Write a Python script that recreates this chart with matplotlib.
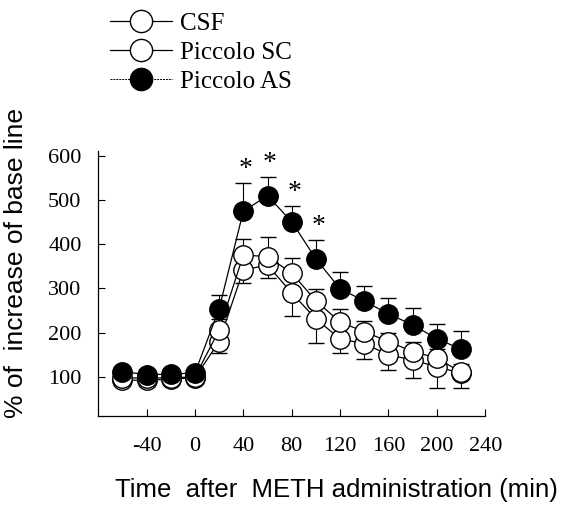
import matplotlib.pyplot as plt
from matplotlib.lines import Line2D

# Time points (min after METH administration)
time = [-60, -40, -20, 0, 20, 40, 60, 80, 100, 120, 140, 160, 180, 200, 220]

# % of base line
csf = [98, 97, 98, 100, 206, 376, 372, 335, 272, 224, 202, 180, 157, 143, 110]
csf_err = [8, 8, 8, 8, 25, 36, 45, 34, 27, 30, 25, 20, 22, 20, 20]

piccolo_sc = [93, 92, 95, 98, 180, 342, 353, 290, 231, 186, 175, 150, 138, 123, 108]
piccolo_sc_err = [8, 12, 8, 8, 25, 30, 30, 52, 54, 32, 34, 34, 40, 48, 34]

piccolo_as = [112, 105, 106, 109, 254, 475, 510, 451, 367, 299, 272, 242, 218, 186, 163]
piccolo_as_err = [8, 8, 8, 8, 31, 64, 42, 36, 43, 39, 34, 37, 38, 34, 41]

star_times = [40, 60, 80, 100]

plt.rcParams['font.family'] = 'Liberation Serif'
plt.rcParams['axes.unicode_minus'] = False

fig = plt.figure(figsize=(5.61, 5.07), dpi=100)
ax = fig.add_axes([0.175, 0.18, 0.69, 0.522])

ms = 14
common = dict(color='black', lw=0.9, markersize=ms, markeredgewidth=1.0,
              capsize=6, elinewidth=0.8, capthick=0.8)
zeros = [0] * len(time)

# upper error bars for CSF, lower for Piccolo SC, upper for Piccolo AS
ax.errorbar(time, piccolo_sc, yerr=[piccolo_sc_err, zeros],
            marker='o', markerfacecolor='white', zorder=2, **common)
ax.errorbar(time, csf, yerr=[zeros, csf_err],
            marker='o', markerfacecolor='white', zorder=3, **common)
ax.errorbar(time, piccolo_as, yerr=[zeros, piccolo_as_err],
            marker='o', markerfacecolor='black', zorder=4, **common)

# significance marks
for t in star_times:
    i = time.index(t)
    ax.text(t + 2, piccolo_as[i] + piccolo_as_err[i] + 3, '*', ha='center', va='bottom',
            fontsize=20)

ax.set_xlim(-80, 240)
ax.set_ylim(12, 611)
ax.set_xticks([-40, 0, 40, 80, 120, 160, 200, 240])
ax.set_yticks([100, 200, 300, 400, 500, 600])
ax.tick_params(direction='in', length=5, width=0.8, labelsize=16)
ax.tick_params(axis='x', pad=15)
ax.tick_params(axis='y', pad=12)
for s in ['top', 'right']:
    ax.spines[s].set_visible(False)
for s in ['left', 'bottom']:
    ax.spines[s].set_linewidth(0.9)

fig.text(336 / 561, 1 - 490 / 507, 'Time  after  METH administration (min)',
         family='Liberation Sans', fontsize=18.5, ha='center', va='center')
fig.text(16 / 561, 1 - 263 / 507, '% of  increase of base line',
         family='Liberation Sans', fontsize=19, ha='center', va='center', rotation=90)

# legend above the axes
handles = [
    Line2D([], [], color='black', lw=0.9, marker='o', markersize=16,
           markerfacecolor='white', markeredgewidth=1.0),
    Line2D([], [], color='black', lw=0.9, marker='o', markersize=16,
           markerfacecolor='white', markeredgewidth=1.0),
    Line2D([], [], color='black', lw=0.7, ls=(0, (2, 1)), marker='o', markersize=16,
           markerfacecolor='black', markeredgewidth=1.0),
]
fig.legend(handles, ['CSF', 'Piccolo SC', 'Piccolo AS'], loc='upper left',
           bbox_to_anchor=(0.173, 1.0), frameon=False, fontsize=18, borderpad=0,
           handlelength=2.5, labelspacing=0.25, handletextpad=0.3)

fig.savefig('out.png', dpi=100)
